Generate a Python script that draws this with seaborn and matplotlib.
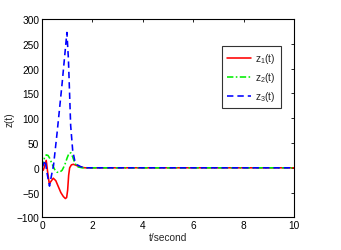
import matplotlib
matplotlib.use("Agg")
import matplotlib.pyplot as plt
import seaborn as sns
import pandas as pd

t1 = [0, 0.05, 0.1, 0.17, 0.23, 0.29, 0.35, 0.45, 0.55, 0.65, 0.75, 0.85, 0.93, 0.98, 1.02, 1.06, 1.1, 1.17, 1.25, 1.35, 1.5, 1.7, 2.0, 10]
z1 = [0, -5, 2, 15, -10, -32, -28, -21, -26, -38, -50, -58, -62, -60, -45, -15, 0, 6, 7, 5, 2, 0, 0, 0]

t2 = [0, 0.05, 0.1, 0.17, 0.24, 0.3, 0.4, 0.5, 0.6, 0.7, 0.8, 0.9, 1.0, 1.08, 1.15, 1.22, 1.3, 1.4, 1.6, 2.0, 10]
z2 = [0, 10, 20, 26, 25, 20, 8, -3, -9, -9, -5, 5, 20, 30, 30, 22, 10, 2, 0, 0, 0]

t3 = [0, 0.07, 0.13, 0.2, 0.3, 0.38, 0.46, 0.6, 0.8, 0.99, 1.05, 1.14, 1.22, 1.3, 1.4, 1.55, 1.8, 2.0, 10]
z3 = [0, 8, 15, -10, -37, -15, 5, 70, 170, 273, 220, 85, 35, 15, 6, 2, 0, 0, 0]

labels = ["z$_1$(t)", "z$_2$(t)", "z$_3$(t)"]
xticks = [0, 2, 4, 6, 8, 10]
yticks = [-100, -50, 0, 50, 100, 150, 200, 250, 300]

sns.set_theme(style="white")
plt.rcParams["font.family"] = ["Liberation Sans", "DejaVu Sans"]
plt.rcParams["mathtext.default"] = "regular"

fig = plt.figure(figsize=(3.41, 2.51), dpi=100)
ax = fig.add_axes([0.123, 0.130, 0.739, 0.790])

series = [(t1, z1, labels[0], "#ff0000", "-"),
          (t2, z2, labels[1], "#00ee00", (0, (4, 1.5, 1, 1.5))),
          (t3, z3, labels[2], "#0000ff", (0, (4, 2.5)))]
for t, z, lab, col, ls in series:
    df = pd.DataFrame({"t": t, "z": z})
    sns.lineplot(data=df, x="t", y="z", ax=ax, color=col, linestyle=ls,
                 linewidth=1.15, label=lab, sort=False)

ax.set_xlim(0, 10)
ax.set_ylim(-100, 300)
ax.set_xticks(xticks)
ax.set_yticks(yticks)
ax.set_xticklabels([str(v) for v in xticks])
ax.set_yticklabels([str(v).replace("-", "\u2212") for v in yticks])
ax.tick_params(direction="in", length=2.5, width=0.6, top=True, right=True,
               labelsize=7.3, pad=2, colors="black")
for s in ax.spines.values():
    s.set_color("black")
    s.set_linewidth(0.8)
ax.set_xlabel("t/second", fontsize=7.3, labelpad=1)
ax.set_ylabel("z(t)", fontsize=7.3, labelpad=1)

leg = ax.legend(loc="upper left", bbox_to_anchor=(0.714, 0.864), borderaxespad=0,
                fontsize=7.3, frameon=True, fancybox=False, handlelength=2.4,
                labelspacing=0.5, borderpad=0.5, handletextpad=0.4)
leg.get_frame().set_edgecolor("black")
leg.get_frame().set_linewidth(0.8)

fig.savefig("out.png", dpi=100)
